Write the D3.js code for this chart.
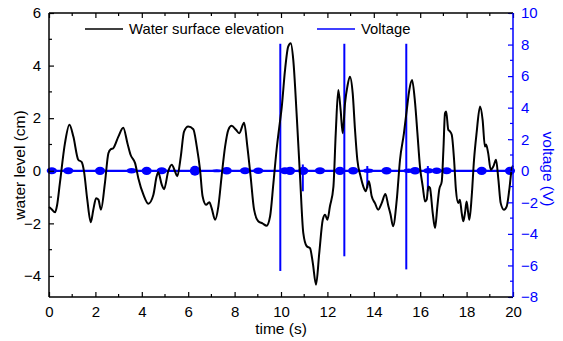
<!DOCTYPE html>
<html>
<head>
<meta charset="utf-8">
<script src="https://cdn.jsdelivr.net/npm/d3@7"></script>
<style>
  body { margin: 0; background: #fff; }
  svg text { font-family: "Liberation Sans", Arial, sans-serif; }
</style>
</head>
<body>
<div id="chart"></div>
<script>

// water surface elevation (cm) vs time (s)
const times = [0.00, 0.10, 0.26, 0.35, 0.47, 0.69, 0.88, 1.05, 1.26, 1.41, 1.51, 1.65, 1.80, 1.91, 2.03, 2.13, 2.24, 2.41, 2.56, 2.66,
    2.77, 2.99, 3.20, 3.38, 3.52, 3.71, 3.85, 4.07, 4.28, 4.50, 4.64, 4.71, 4.86, 4.96, 5.14, 5.29, 5.43, 5.53, 5.68, 5.82,
    6.00, 6.22, 6.37, 6.51, 6.62, 6.77, 6.91, 7.01, 7.16, 7.30, 7.44, 7.59, 7.73, 7.87, 8.06, 8.20, 8.41, 8.55, 8.69, 8.84,
    9.02, 9.20, 9.38, 9.53, 9.67, 9.81, 9.96, 10.03, 10.17, 10.31, 10.42, 10.53, 10.68, 10.82, 10.96, 11.11, 11.25, 11.37, 11.51, 11.65,
    11.80, 11.90, 12.00, 12.11, 12.26, 12.36, 12.47, 12.57, 12.66, 12.76, 12.86, 12.97, 13.09, 13.19, 13.29, 13.43, 13.55, 13.65, 13.79, 13.91,
    14.05, 14.19, 14.34, 14.50, 14.63, 14.72, 14.83, 14.99, 15.13, 15.30, 15.42, 15.53, 15.65, 15.78, 15.88, 15.99, 16.11, 16.21, 16.28, 16.35,
    16.42, 16.54, 16.64, 16.74, 16.82, 16.93, 17.00, 17.07, 17.12, 17.21, 17.28, 17.36, 17.46, 17.54, 17.64, 17.71, 17.79, 17.86, 17.93, 18.00,
    18.07, 18.12, 18.22, 18.32, 18.43, 18.58, 18.69, 18.79, 18.84, 18.93, 19.04, 19.15, 19.27, 19.37, 19.47, 19.61, 19.73, 19.84, 19.94, 20.00];
const levels = [-1.38, -1.45, -1.58, -1.30, -0.46, 1.06, 1.75, 1.30, 0.42, 0.33, -0.03, -1.10, -1.96, -1.48, -1.04, -1.10, -1.48, -0.47, 0.67, 0.82,
    0.86, 1.30, 1.64, 1.05, 0.60, 0.29, -0.28, -0.91, -1.25, -0.91, -0.21, -0.06, -0.53, -0.70, -0.02, 0.23, -0.02, -0.21, 0.54, 1.49,
    1.68, 1.58, 0.92, 0.04, -0.97, -1.29, -1.20, -1.42, -1.86, -1.35, -0.21, 0.92, 1.56, 1.71, 1.56, 1.43, 1.83, 0.92, -0.21, -1.48,
    -1.92, -2.00, -2.09, -1.73, -0.50, 0.80, 1.90, 2.40, 3.80, 4.72, 4.85, 4.21, 2.06, -0.21, -2.36, -2.87, -2.94, -3.50, -4.33, -3.12,
    -1.86, -1.67, -1.86, -1.35, -0.60, 1.43, 3.07, 2.31, 1.43, 2.57, 3.20, 3.58, 2.95, 1.56, 0.42, -0.21, -0.60, -0.78, -0.40, -0.97,
    -1.23, -1.48, -1.23, -0.88, -1.35, -1.65, -2.11, -1.10, 0.42, 1.43, 2.31, 3.07, 3.45, 2.57, 1.43, 0.16, -0.60, -1.17, -1.10, -0.60,
    -0.65, -1.61, -2.18, -1.35, -0.72, -0.40, 0.80, 2.19, 2.25, 1.56, 1.50, 1.37, 0.42, -0.72, -1.23, -1.10, -1.61, -1.92, -1.61, -1.17,
    -1.61, -1.86, -0.97, 0.42, 1.43, 2.44, 1.94, 0.92, 1.00, 0.67, 0.04, 0.16, 0.42, -0.34, -1.23, -1.48, -1.35, -0.72, 0.04, 0.20];

// voltage: tall pulses [time, top V, bottom V]
const pulseTimes = [9.97, 12.73, 15.40, 10.94, 13.72, 16.33];
const pulseTops = [8.05, 8.05, 8.05, 0.4, 0.3, 0.3];
const pulseBottoms = [-6.35, -5.42, -6.25, -1.3, -1.1, -1.3];

// voltage: small noise bursts along 0 V [time, amplitude V]
const burstTimes = [0.12, 0.83, 2.20, 3.56, 4.21, 4.86, 6.29, 7.23, 7.66, 8.45, 9.02, 10.17, 10.39, 10.96, 11.68,
    12.54, 13.11, 13.76, 14.55, 15.50, 15.78, 16.35, 16.71, 17.14, 18.65, 19.87];
const burstAmps = [0.22, 0.22, 0.26, 0.18, 0.26, 0.22, 0.32, 0.1, 0.24, 0.22, 0.2, 0.22, 0.26, 0.26, 0.22,
    0.26, 0.24, 0.14, 0.24, 0.14, 0.24, 0.18, 0.2, 0.22, 0.26, 0.26];

const xTicks = [0, 2, 4, 6, 8, 10, 12, 14, 16, 18, 20];
const yLeftTicks = [-4, -2, 0, 2, 4, 6];
const yRightTicks = [-8, -6, -4, -2, 0, 2, 4, 6, 8, 10];

const legendLabels = ["Water surface elevation", "Voltage"];

const W = 563, H = 341;
const margin = {top: 13, right: 50, bottom: 44, left: 49};
const width = W - margin.left - margin.right;
const height = H - margin.top - margin.bottom;
const BLUE = "#0000ff";

const svg = d3.select("#chart").append("svg")
    .attr("width", W)
    .attr("height", H);
const g = svg.append("g")
    .attr("transform", "translate(" + margin.left + "," + margin.top + ")");

// scales
const x = d3.scaleLinear().domain([0, 20]).range([0, width]);
const y = d3.scaleLinear().domain([-4.8, 6]).range([height, 0]);
const y2 = d3.scaleLinear().domain([-8, 10]).range([height, 0]);

// voltage line at zero
const volt = g.append("g").attr("class", "voltage");
volt.append("line")
    .attr("x1", x(0)).attr("x2", x(20))
    .attr("y1", y2(0)).attr("y2", y2(0))
    .attr("stroke", BLUE).attr("stroke-width", 2.2);

// noise bursts drawn as small envelopes
const burstHalf = 0.22;
volt.selectAll("ellipse.burst")
    .data(burstTimes.map((t, i) => ({t: t, a: burstAmps[i]})))
    .enter().append("ellipse")
    .attr("class", "burst")
    .attr("cx", d => x(d.t))
    .attr("cy", y2(0))
    .attr("rx", d => x(d.t + burstHalf) - x(d.t))
    .attr("ry", d => y2(0) - y2(d.a))
    .attr("fill", BLUE);

// water level line
const line = d3.line()
    .x(d => x(d[0]))
    .y(d => y(d[1]))
    .curve(d3.curveMonotoneX);
g.append("path")
    .datum(times.map((t, i) => [t, levels[i]]))
    .attr("d", line)
    .attr("fill", "none")
    .attr("stroke", "#000")
    .attr("stroke-width", 2)
    .attr("stroke-linejoin", "round");

// pulses on top
volt.selectAll("line.pulse")
    .data(pulseTimes.map((t, i) => ({t: t, top: pulseTops[i], bot: pulseBottoms[i]})))
    .enter().append("line")
    .attr("class", "pulse")
    .attr("x1", d => x(d.t)).attr("x2", d => x(d.t))
    .attr("y1", d => y2(d.top)).attr("y2", d => y2(d.bot))
    .attr("stroke", BLUE).attr("stroke-width", 2);

// axes with inward ticks
function styleAxis(sel, color) {
    sel.select(".domain").remove();
    sel.selectAll("line").attr("stroke", color).attr("stroke-width", 1.2);
    sel.selectAll("text").attr("fill", color).attr("font-size", "15px");
}

const minorX = d3.range(1, 20, 2);
const xAxis = g.append("g").attr("transform", "translate(0," + height + ")")
    .call(d3.axisBottom(x).tickValues(xTicks).tickSize(-5).tickPadding(9).tickFormat(d3.format("d")));
styleAxis(xAxis, "#000");
xAxis.selectAll("g.minor").data(minorX).enter().append("line")
    .attr("x1", d => x(d)).attr("x2", d => x(d))
    .attr("y1", 0).attr("y2", -3).attr("stroke", "#000").attr("stroke-width", 1.2);

const xTop = g.append("g")
    .call(d3.axisTop(x).tickValues(xTicks).tickSize(-5).tickFormat(""));
styleAxis(xTop, "#000");
xTop.selectAll("g.minor").data(minorX).enter().append("line")
    .attr("x1", d => x(d)).attr("x2", d => x(d))
    .attr("y1", 0).attr("y2", 3).attr("stroke", "#000").attr("stroke-width", 1.2);

const yAxis = g.append("g")
    .call(d3.axisLeft(y).tickValues(yLeftTicks).tickSize(-5).tickPadding(8));
styleAxis(yAxis, "#000");
yAxis.selectAll("g.minor").data(d3.range(-3, 6, 2)).enter().append("line")
    .attr("x1", 0).attr("x2", 3)
    .attr("y1", d => y(d)).attr("y2", d => y(d)).attr("stroke", "#000").attr("stroke-width", 1.2);

const yAxisR = g.append("g").attr("transform", "translate(" + width + ",0)")
    .call(d3.axisRight(y2).tickValues(yRightTicks).tickSize(-5).tickPadding(8));
styleAxis(yAxisR, BLUE);
yAxisR.selectAll("g.minor").data(d3.range(-7, 10, 2)).enter().append("line")
    .attr("x1", 0).attr("x2", -3)
    .attr("y1", d => y2(d)).attr("y2", d => y2(d)).attr("stroke", BLUE).attr("stroke-width", 1.2);

// frame
g.append("line").attr("x1", 0).attr("x2", width).attr("y1", 0).attr("y2", 0).attr("stroke", "#000").attr("stroke-width", 1.5);
g.append("line").attr("x1", 0).attr("x2", width).attr("y1", height).attr("y2", height).attr("stroke", "#000").attr("stroke-width", 1.5);
g.append("line").attr("x1", 0).attr("x2", 0).attr("y1", 0).attr("y2", height).attr("stroke", "#000").attr("stroke-width", 1.5);
g.append("line").attr("x1", width).attr("x2", width).attr("y1", 0).attr("y2", height).attr("stroke", BLUE).attr("stroke-width", 1.5);

// axis titles
svg.append("text")
    .attr("x", margin.left + width / 2).attr("y", 334)
    .attr("text-anchor", "middle").attr("font-size", "15.5px")
    .text("time (s)");
svg.append("text")
    .attr("transform", "translate(25," + (margin.top + height / 2 + 10) + ") rotate(-90)")
    .attr("text-anchor", "middle").attr("font-size", "15.5px")
    .text("water level (cm)");
svg.append("text")
    .attr("transform", "translate(543," + (margin.top + height / 2 + 14) + ") rotate(90)")
    .attr("text-anchor", "middle").attr("font-size", "15.5px").attr("fill", BLUE)
    .text("voltage (V)");

// legend
const legend = svg.append("g");
const legendX = [85, 317];
const legendColors = ["#000", BLUE];
legendLabels.forEach((lab, i) => {
    legend.append("line")
        .attr("x1", legendX[i]).attr("x2", legendX[i] + 38)
        .attr("y1", 29).attr("y2", 29)
        .attr("stroke", legendColors[i]).attr("stroke-width", 1.5);
    legend.append("text")
        .attr("x", legendX[i] + 44).attr("y", 34)
        .attr("font-size", "14.8px")
        .text(lab);
});

</script>
</body>
</html>
